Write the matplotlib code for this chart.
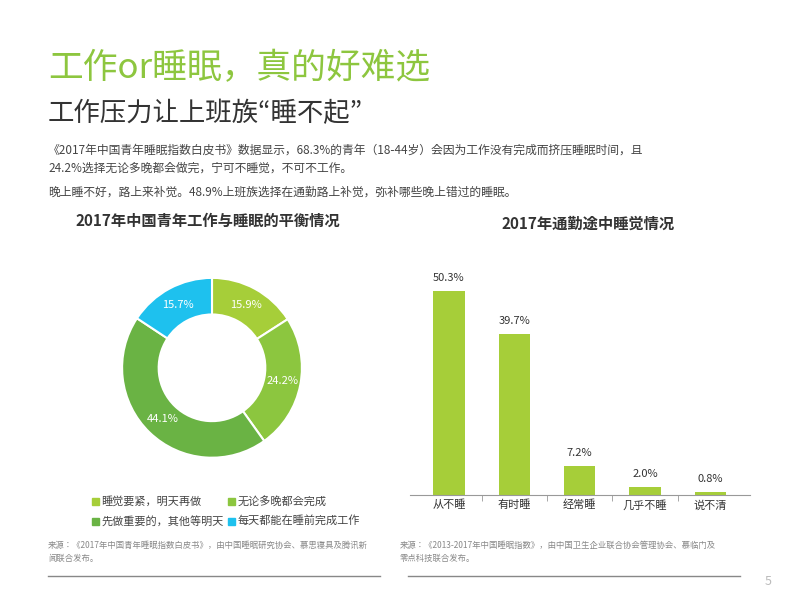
import matplotlib.pyplot as plt
from matplotlib import font_manager
from matplotlib.patches import Rectangle
import numpy as np

# 找一个CJK无衬线字体
cjk = [f for f in font_manager.findSystemFonts() if 'cjk' in f.lower() and 'serif' not in f.lower()]
names = []
for f in cjk:
    try:
        font_manager.fontManager.addfont(f)
        n = font_manager.FontProperties(fname=f).get_name()
        if 'Serif' not in n:
            names.append(n)
    except Exception:
        pass
pref = [n for n in names if 'Sans CJK SC' in n] + names
plt.rcParams['font.family'] = 'sans-serif'
plt.rcParams['font.sans-serif'] = pref[:1] + ['Noto Sans CJK SC', 'DejaVu Sans']

# 数据
donutLabels = ['睡觉要紧，明天再做', '无论多晚都会完成', '先做重要的，其他等明天', '每天都能在睡前完成工作']
donutValues = [15.9, 24.2, 44.1, 15.7]
donutColors = ['#a6ce39', '#8cc63f', '#6ab344', '#1ec1ee']

barCats = ['从不睡', '有时睡', '经常睡', '几乎不睡', '说不清']
barValues = [50.3, 39.7, 7.2, 2.0, 0.8]

fig = plt.figure(figsize=(8, 6), dpi=100)
fig.patch.set_facecolor('white')

fig.text(0.06, 0.885, '工作or睡眠，真的好难选', fontsize=25, color='#8dc63f', va='center')
fig.text(0.06, 0.81, '工作压力让上班族“睡不起”', fontsize=19, color='#333333', va='center')
fig.text(0.06, 0.76, '《2017年中国青年睡眠指数白皮书》数据显示，68.3%的青年（18-44岁）会因为工作没有完成而挤压睡眠时间，且\n24.2%选择无论多晚都会做完，宁可不睡觉，不可不工作。',
         fontsize=8.5, color='#444444', va='top', linespacing=1.5)
fig.text(0.06, 0.69, '晚上睡不好，路上来补觉。48.9%上班族选择在通勤路上补觉，弥补哪些晚上错过的睡眠。',
         fontsize=8.5, color='#444444', va='top')

fig.text(0.26, 0.632, '2017年中国青年工作与睡眠的平衡情况', fontsize=11, fontweight='bold', color='#333333', ha='center', va='center')
fig.text(0.735, 0.627, '2017年通勤途中睡觉情况', fontsize=11, fontweight='bold', color='#333333', ha='center', va='center')

# 环形图
axD = fig.add_axes([0.145, 0.227, 0.24, 0.32])
wedges, _ = axD.pie(donutValues, colors=donutColors, startangle=90, counterclock=False, radius=1.18,
                    wedgeprops=dict(width=0.48, edgecolor='white', linewidth=1.5))
for w, v in zip(wedges, donutValues):
    ang = np.deg2rad((w.theta1 + w.theta2) / 2)
    axD.text(0.94 * np.cos(ang), 0.94 * np.sin(ang), f'{v}%', fontsize=8, color='white', ha='center', va='center')
axD.set_xlim(-1.26, 1.26)
axD.set_ylim(-1.26, 1.26)
axD.set_aspect('equal')

# 图例
pos = [(0.115, 0.165), (0.285, 0.165), (0.115, 0.132), (0.285, 0.132)]
for (x, y), lab, c in zip(pos, donutLabels, donutColors):
    fig.patches.append(Rectangle((x, y - 0.007), 0.009, 0.012, color=c, transform=fig.transFigure))
    fig.text(x + 0.012, y, lab, fontsize=8, color='#444444', va='center')

# 柱状图
axB = fig.add_axes([0.512, 0.175, 0.425, 0.385])
axB.bar(barCats, barValues, width=0.48, color='#a6ce39')
for i, v in enumerate(barValues):
    axB.text(i, v + 2, f'{v}%', ha='center', va='bottom', fontsize=8, color='#333333')
axB.set_ylim(0, 57)
axB.set_xlim(-0.6, 4.6)
axB.set_yticks([])
for s in ['top', 'right', 'left']:
    axB.spines[s].set_visible(False)
axB.spines['bottom'].set_color('#999999')
axB.tick_params(axis='x', labelsize=8, colors='#333333')
axB.set_xticks([i + 0.5 for i in range(len(barCats) - 1)], minor=True)
axB.tick_params(axis='x', which='major', length=0)
axB.tick_params(axis='x', which='minor', length=4, color='#999999')

# 来源
fig.text(0.06, 0.08, '来源：《2017年中国青年睡眠指数白皮书》，由中国睡眠研究协会、慕思寝具及腾讯新\n闻联合发布。', fontsize=6, color='#888888', va='center', linespacing=1.5)
fig.text(0.5, 0.08, '来源：《2013-2017年中国睡眠指数》，由中国卫生企业联合协会管理协会、慕临门及\n零点科技联合发布。', fontsize=6, color='#888888', va='center', linespacing=1.5)
fig.lines.append(plt.Line2D([0.06, 0.475], [0.04, 0.04], color='#888888', lw=1, transform=fig.transFigure))
fig.lines.append(plt.Line2D([0.51, 0.925], [0.04, 0.04], color='#888888', lw=1, transform=fig.transFigure))
fig.text(0.96, 0.025, '5', fontsize=9, color='#bbbbbb', ha='center')

fig.savefig('out.png', dpi=100)
